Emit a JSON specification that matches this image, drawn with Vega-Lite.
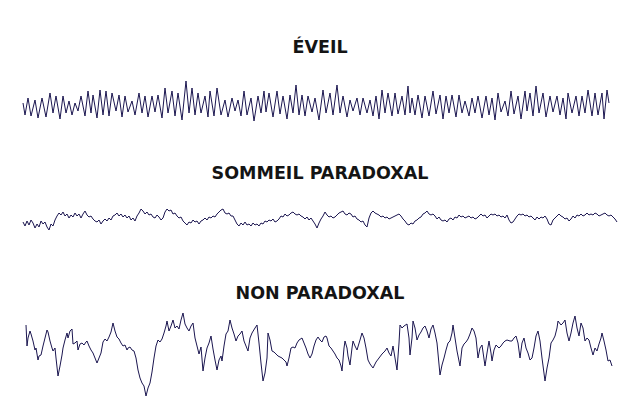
{
  "$schema": "https://vega.github.io/schema/vega-lite/v6.json",
  "padding": {"left": 20, "top": 38, "right": 0, "bottom": 0},
  "background": "#ffffff",
  "config": {
    "view": {"stroke": null},
    "title": {"font": "DejaVu Sans", "fontWeight": "bold", "fontSize": 17.5, "color": "#141414", "anchor": "middle", "baseline": "alphabetic"},
    "concat": {"spacing": 36}
  },
  "datasets": {
    "eveil": [
      {"t":23,"uV":100},{"t":25,"uV":112},{"t":28,"uV":95},{"t":31,"uV":113},{"t":35,"uV":97},{"t":38,"uV":115},{"t":42,"uV":95},{"t":46,"uV":114},{"t":50,"uV":90},{"t":53,"uV":110},{"t":56,"uV":93},{"t":60,"uV":116},{"t":63,"uV":93},{"t":66,"uV":110},{"t":69,"uV":98},{"t":72,"uV":112},{"t":75,"uV":100},{"t":78,"uV":108},{"t":81,"uV":93},{"t":85,"uV":113},{"t":88,"uV":88},{"t":91,"uV":110},{"t":93,"uV":92},{"t":97,"uV":115},{"t":100,"uV":87},{"t":103,"uV":112},{"t":106,"uV":88},{"t":109,"uV":113},{"t":112,"uV":90},{"t":116,"uV":108},{"t":119,"uV":92},{"t":122,"uV":114},{"t":125,"uV":93},{"t":128,"uV":109},{"t":132,"uV":98},{"t":135,"uV":112},{"t":139,"uV":90},{"t":142,"uV":110},{"t":145,"uV":93},{"t":148,"uV":114},{"t":152,"uV":93},{"t":155,"uV":109},{"t":158,"uV":92},{"t":162,"uV":115},{"t":165,"uV":85},{"t":168,"uV":110},{"t":172,"uV":88},{"t":175,"uV":113},{"t":178,"uV":90},{"t":182,"uV":117},{"t":186,"uV":78},{"t":189,"uV":110},{"t":192,"uV":85},{"t":195,"uV":112},{"t":198,"uV":90},{"t":201,"uV":110},{"t":205,"uV":93},{"t":208,"uV":114},{"t":210,"uV":88},{"t":214,"uV":113},{"t":217,"uV":85},{"t":221,"uV":112},{"t":225,"uV":97},{"t":228,"uV":114},{"t":232,"uV":95},{"t":235,"uV":108},{"t":238,"uV":97},{"t":241,"uV":113},{"t":244,"uV":88},{"t":247,"uV":112},{"t":251,"uV":95},{"t":254,"uV":118},{"t":258,"uV":93},{"t":261,"uV":110},{"t":264,"uV":88},{"t":266,"uV":109},{"t":269,"uV":90},{"t":273,"uV":114},{"t":277,"uV":88},{"t":280,"uV":111},{"t":283,"uV":93},{"t":287,"uV":116},{"t":290,"uV":92},{"t":293,"uV":110},{"t":296,"uV":82},{"t":299,"uV":112},{"t":302,"uV":92},{"t":305,"uV":113},{"t":308,"uV":93},{"t":312,"uV":109},{"t":315,"uV":95},{"t":319,"uV":117},{"t":323,"uV":87},{"t":326,"uV":110},{"t":330,"uV":90},{"t":333,"uV":112},{"t":337,"uV":82},{"t":340,"uV":110},{"t":343,"uV":93},{"t":347,"uV":114},{"t":350,"uV":97},{"t":353,"uV":108},{"t":357,"uV":95},{"t":360,"uV":112},{"t":363,"uV":95},{"t":367,"uV":110},{"t":370,"uV":97},{"t":373,"uV":113},{"t":376,"uV":93},{"t":379,"uV":116},{"t":382,"uV":87},{"t":385,"uV":110},{"t":388,"uV":90},{"t":392,"uV":113},{"t":395,"uV":90},{"t":398,"uV":111},{"t":402,"uV":93},{"t":405,"uV":112},{"t":408,"uV":83},{"t":410,"uV":110},{"t":412,"uV":95},{"t":415,"uV":112},{"t":418,"uV":92},{"t":422,"uV":115},{"t":425,"uV":93},{"t":429,"uV":113},{"t":433,"uV":88},{"t":436,"uV":111},{"t":440,"uV":92},{"t":443,"uV":116},{"t":446,"uV":93},{"t":449,"uV":110},{"t":452,"uV":92},{"t":456,"uV":114},{"t":459,"uV":92},{"t":462,"uV":110},{"t":465,"uV":98},{"t":469,"uV":113},{"t":472,"uV":95},{"t":475,"uV":110},{"t":478,"uV":93},{"t":482,"uV":115},{"t":486,"uV":93},{"t":489,"uV":112},{"t":492,"uV":95},{"t":495,"uV":117},{"t":498,"uV":90},{"t":501,"uV":109},{"t":505,"uV":98},{"t":508,"uV":113},{"t":511,"uV":88},{"t":514,"uV":111},{"t":518,"uV":93},{"t":521,"uV":116},{"t":525,"uV":88},{"t":527,"uV":108},{"t":530,"uV":90},{"t":533,"uV":113},{"t":536,"uV":83},{"t":539,"uV":110},{"t":543,"uV":90},{"t":546,"uV":114},{"t":550,"uV":93},{"t":553,"uV":109},{"t":557,"uV":93},{"t":560,"uV":112},{"t":563,"uV":95},{"t":566,"uV":116},{"t":568,"uV":90},{"t":572,"uV":110},{"t":576,"uV":93},{"t":579,"uV":113},{"t":582,"uV":93},{"t":585,"uV":110},{"t":588,"uV":87},{"t":592,"uV":113},{"t":595,"uV":90},{"t":598,"uV":112},{"t":602,"uV":90},{"t":604,"uV":116},{"t":607,"uV":87},{"t":609,"uV":100}
    ],
    "paradoxal": [
      {"t":23,"uV":220},{"t":25,"uV":224},{"t":27,"uV":219},{"t":29,"uV":223},{"t":31,"uV":218},{"t":33,"uV":221},{"t":35,"uV":226},{"t":37,"uV":222},{"t":39,"uV":225},{"t":41,"uV":219},{"t":43,"uV":222},{"t":45,"uV":220},{"t":47,"uV":225},{"t":49,"uV":228},{"t":51,"uV":222},{"t":53,"uV":224},{"t":55,"uV":218},{"t":57,"uV":214},{"t":59,"uV":211},{"t":61,"uV":213},{"t":63,"uV":210},{"t":65,"uV":214},{"t":67,"uV":212},{"t":69,"uV":216},{"t":71,"uV":213},{"t":73,"uV":215},{"t":75,"uV":211},{"t":77,"uV":214},{"t":79,"uV":212},{"t":81,"uV":216},{"t":83,"uV":212},{"t":85,"uV":209},{"t":87,"uV":213},{"t":89,"uV":215},{"t":91,"uV":214},{"t":93,"uV":217},{"t":95,"uV":219},{"t":97,"uV":220},{"t":99,"uV":218},{"t":101,"uV":222},{"t":103,"uV":219},{"t":105,"uV":217},{"t":107,"uV":219},{"t":109,"uV":216},{"t":111,"uV":218},{"t":113,"uV":214},{"t":115,"uV":213},{"t":117,"uV":211},{"t":119,"uV":214},{"t":121,"uV":212},{"t":123,"uV":215},{"t":125,"uV":213},{"t":127,"uV":216},{"t":129,"uV":214},{"t":131,"uV":218},{"t":133,"uV":216},{"t":135,"uV":219},{"t":137,"uV":214},{"t":139,"uV":211},{"t":141,"uV":207},{"t":143,"uV":209},{"t":145,"uV":212},{"t":147,"uV":210},{"t":149,"uV":213},{"t":151,"uV":212},{"t":153,"uV":215},{"t":155,"uV":216},{"t":157,"uV":213},{"t":159,"uV":215},{"t":161,"uV":218},{"t":163,"uV":216},{"t":165,"uV":210},{"t":167,"uV":207},{"t":169,"uV":209},{"t":171,"uV":208},{"t":173,"uV":212},{"t":175,"uV":211},{"t":177,"uV":214},{"t":179,"uV":216},{"t":181,"uV":215},{"t":183,"uV":219},{"t":185,"uV":221},{"t":187,"uV":223},{"t":189,"uV":220},{"t":191,"uV":221},{"t":193,"uV":218},{"t":195,"uV":220},{"t":197,"uV":219},{"t":199,"uV":222},{"t":201,"uV":219},{"t":203,"uV":218},{"t":205,"uV":216},{"t":207,"uV":218},{"t":209,"uV":215},{"t":211,"uV":216},{"t":213,"uV":214},{"t":215,"uV":215},{"t":217,"uV":212},{"t":219,"uV":210},{"t":221,"uV":208},{"t":223,"uV":207},{"t":225,"uV":211},{"t":227,"uV":212},{"t":229,"uV":211},{"t":231,"uV":214},{"t":233,"uV":214},{"t":235,"uV":218},{"t":237,"uV":222},{"t":239,"uV":224},{"t":241,"uV":221},{"t":243,"uV":223},{"t":245,"uV":220},{"t":247,"uV":223},{"t":249,"uV":222},{"t":251,"uV":224},{"t":253,"uV":221},{"t":255,"uV":223},{"t":257,"uV":222},{"t":259,"uV":224},{"t":261,"uV":221},{"t":263,"uV":222},{"t":265,"uV":219},{"t":267,"uV":220},{"t":269,"uV":218},{"t":271,"uV":219},{"t":273,"uV":217},{"t":275,"uV":220},{"t":277,"uV":219},{"t":279,"uV":217},{"t":281,"uV":214},{"t":283,"uV":215},{"t":285,"uV":212},{"t":287,"uV":214},{"t":289,"uV":213},{"t":291,"uV":211},{"t":293,"uV":210},{"t":295,"uV":212},{"t":297,"uV":213},{"t":299,"uV":212},{"t":301,"uV":214},{"t":303,"uV":215},{"t":305,"uV":217},{"t":307,"uV":215},{"t":309,"uV":218},{"t":311,"uV":216},{"t":313,"uV":219},{"t":315,"uV":222},{"t":317,"uV":226},{"t":319,"uV":221},{"t":321,"uV":217},{"t":323,"uV":214},{"t":325,"uV":210},{"t":327,"uV":213},{"t":329,"uV":215},{"t":331,"uV":214},{"t":333,"uV":216},{"t":335,"uV":215},{"t":337,"uV":213},{"t":339,"uV":211},{"t":341,"uV":210},{"t":343,"uV":209},{"t":345,"uV":212},{"t":347,"uV":213},{"t":349,"uV":211},{"t":351,"uV":212},{"t":353,"uV":215},{"t":355,"uV":214},{"t":357,"uV":217},{"t":359,"uV":218},{"t":361,"uV":220},{"t":363,"uV":219},{"t":365,"uV":223},{"t":367,"uV":225},{"t":369,"uV":216},{"t":371,"uV":211},{"t":373,"uV":209},{"t":375,"uV":211},{"t":377,"uV":212},{"t":379,"uV":213},{"t":381,"uV":215},{"t":383,"uV":214},{"t":385,"uV":216},{"t":387,"uV":215},{"t":389,"uV":217},{"t":391,"uV":216},{"t":393,"uV":215},{"t":395,"uV":214},{"t":397,"uV":213},{"t":399,"uV":212},{"t":401,"uV":214},{"t":403,"uV":217},{"t":405,"uV":219},{"t":407,"uV":222},{"t":409,"uV":223},{"t":411,"uV":221},{"t":413,"uV":222},{"t":415,"uV":219},{"t":417,"uV":218},{"t":419,"uV":216},{"t":421,"uV":215},{"t":423,"uV":212},{"t":425,"uV":211},{"t":427,"uV":209},{"t":429,"uV":212},{"t":431,"uV":213},{"t":433,"uV":212},{"t":435,"uV":214},{"t":437,"uV":217},{"t":439,"uV":215},{"t":441,"uV":218},{"t":443,"uV":219},{"t":445,"uV":218},{"t":447,"uV":220},{"t":449,"uV":217},{"t":451,"uV":216},{"t":453,"uV":218},{"t":455,"uV":215},{"t":457,"uV":216},{"t":459,"uV":213},{"t":461,"uV":215},{"t":463,"uV":214},{"t":465,"uV":216},{"t":467,"uV":215},{"t":469,"uV":214},{"t":471,"uV":216},{"t":473,"uV":215},{"t":475,"uV":217},{"t":477,"uV":216},{"t":479,"uV":214},{"t":481,"uV":212},{"t":483,"uV":214},{"t":485,"uV":213},{"t":487,"uV":216},{"t":489,"uV":214},{"t":491,"uV":212},{"t":493,"uV":213},{"t":495,"uV":212},{"t":497,"uV":214},{"t":499,"uV":213},{"t":501,"uV":215},{"t":503,"uV":214},{"t":505,"uV":216},{"t":507,"uV":213},{"t":509,"uV":218},{"t":511,"uV":221},{"t":513,"uV":220},{"t":515,"uV":217},{"t":517,"uV":214},{"t":519,"uV":212},{"t":521,"uV":213},{"t":523,"uV":212},{"t":525,"uV":214},{"t":527,"uV":213},{"t":529,"uV":215},{"t":531,"uV":214},{"t":533,"uV":216},{"t":535,"uV":218},{"t":537,"uV":215},{"t":539,"uV":217},{"t":541,"uV":215},{"t":543,"uV":216},{"t":545,"uV":214},{"t":547,"uV":217},{"t":549,"uV":222},{"t":551,"uV":223},{"t":553,"uV":218},{"t":555,"uV":216},{"t":557,"uV":214},{"t":559,"uV":212},{"t":561,"uV":214},{"t":563,"uV":215},{"t":565,"uV":217},{"t":567,"uV":216},{"t":569,"uV":219},{"t":571,"uV":217},{"t":573,"uV":214},{"t":575,"uV":216},{"t":577,"uV":213},{"t":579,"uV":214},{"t":581,"uV":212},{"t":583,"uV":214},{"t":585,"uV":213},{"t":587,"uV":211},{"t":589,"uV":213},{"t":591,"uV":212},{"t":593,"uV":213},{"t":595,"uV":211},{"t":597,"uV":212},{"t":599,"uV":214},{"t":601,"uV":213},{"t":603,"uV":212},{"t":605,"uV":211},{"t":607,"uV":213},{"t":609,"uV":214},{"t":611,"uV":213},{"t":613,"uV":215},{"t":615,"uV":217},{"t":617,"uV":220}
    ],
    "nonparadoxal": [
      {"t":26,"uV":327},{"t":27,"uV":348},{"t":28,"uV":340},{"t":30,"uV":333},{"t":31,"uV":336},{"t":33,"uV":343},{"t":35,"uV":352},{"t":36,"uV":350},{"t":38,"uV":362},{"t":39,"uV":358},{"t":41,"uV":357},{"t":43,"uV":348},{"t":45,"uV":340},{"t":47,"uV":332},{"t":48,"uV":334},{"t":50,"uV":343},{"t":52,"uV":350},{"t":53,"uV":353},{"t":55,"uV":350},{"t":56,"uV":360},{"t":58,"uV":378},{"t":60,"uV":368},{"t":62,"uV":357},{"t":63,"uV":350},{"t":65,"uV":342},{"t":67,"uV":335},{"t":68,"uV":340},{"t":70,"uV":333},{"t":72,"uV":331},{"t":73,"uV":346},{"t":75,"uV":345},{"t":77,"uV":343},{"t":78,"uV":352},{"t":80,"uV":346},{"t":82,"uV":345},{"t":84,"uV":347},{"t":86,"uV":344},{"t":87,"uV":343},{"t":89,"uV":348},{"t":91,"uV":352},{"t":93,"uV":355},{"t":95,"uV":360},{"t":97,"uV":365},{"t":99,"uV":360},{"t":101,"uV":355},{"t":103,"uV":344},{"t":105,"uV":341},{"t":107,"uV":343},{"t":109,"uV":339},{"t":111,"uV":334},{"t":113,"uV":325},{"t":115,"uV":333},{"t":117,"uV":339},{"t":119,"uV":341},{"t":121,"uV":345},{"t":123,"uV":348},{"t":125,"uV":347},{"t":127,"uV":352},{"t":128,"uV":350},{"t":130,"uV":349},{"t":132,"uV":352},{"t":134,"uV":353},{"t":136,"uV":360},{"t":138,"uV":372},{"t":140,"uV":380},{"t":142,"uV":385},{"t":144,"uV":388},{"t":146,"uV":398},{"t":148,"uV":390},{"t":150,"uV":385},{"t":152,"uV":374},{"t":154,"uV":360},{"t":156,"uV":348},{"t":158,"uV":342},{"t":160,"uV":344},{"t":162,"uV":341},{"t":164,"uV":335},{"t":166,"uV":328},{"t":167,"uV":323},{"t":169,"uV":333},{"t":171,"uV":328},{"t":173,"uV":322},{"t":175,"uV":330},{"t":177,"uV":328},{"t":179,"uV":331},{"t":181,"uV":322},{"t":183,"uV":315},{"t":185,"uV":326},{"t":187,"uV":330},{"t":189,"uV":333},{"t":191,"uV":328},{"t":193,"uV":325},{"t":195,"uV":340},{"t":197,"uV":348},{"t":199,"uV":356},{"t":201,"uV":349},{"t":203,"uV":373},{"t":205,"uV":360},{"t":207,"uV":350},{"t":209,"uV":345},{"t":211,"uV":338},{"t":213,"uV":351},{"t":215,"uV":362},{"t":217,"uV":372},{"t":219,"uV":362},{"t":221,"uV":358},{"t":222,"uV":363},{"t":224,"uV":348},{"t":226,"uV":336},{"t":228,"uV":333},{"t":230,"uV":322},{"t":232,"uV":330},{"t":234,"uV":336},{"t":236,"uV":343},{"t":238,"uV":338},{"t":240,"uV":336},{"t":242,"uV":333},{"t":244,"uV":343},{"t":246,"uV":348},{"t":248,"uV":353},{"t":250,"uV":340},{"t":252,"uV":335},{"t":255,"uV":330},{"t":257,"uV":327},{"t":259,"uV":345},{"t":261,"uV":365},{"t":263,"uV":383},{"t":265,"uV":375},{"t":267,"uV":360},{"t":268,"uV":335},{"t":270,"uV":342},{"t":272,"uV":353},{"t":274,"uV":354},{"t":276,"uV":356},{"t":278,"uV":358},{"t":280,"uV":359},{"t":282,"uV":360},{"t":284,"uV":362},{"t":286,"uV":364},{"t":287,"uV":368},{"t":289,"uV":360},{"t":291,"uV":350},{"t":293,"uV":349},{"t":295,"uV":350},{"t":297,"uV":345},{"t":299,"uV":342},{"t":302,"uV":340},{"t":304,"uV":345},{"t":306,"uV":350},{"t":308,"uV":356},{"t":310,"uV":360},{"t":312,"uV":356},{"t":314,"uV":348},{"t":316,"uV":342},{"t":318,"uV":339},{"t":320,"uV":342},{"t":322,"uV":344},{"t":324,"uV":339},{"t":326,"uV":338},{"t":327,"uV":340},{"t":329,"uV":348},{"t":331,"uV":350},{"t":333,"uV":353},{"t":335,"uV":356},{"t":337,"uV":360},{"t":339,"uV":362},{"t":341,"uV":368},{"t":342,"uV":373},{"t":344,"uV":350},{"t":345,"uV":343},{"t":347,"uV":350},{"t":348,"uV":358},{"t":350,"uV":367},{"t":352,"uV":350},{"t":353,"uV":343},{"t":355,"uV":348},{"t":357,"uV":352},{"t":360,"uV":342},{"t":362,"uV":335},{"t":364,"uV":340},{"t":366,"uV":350},{"t":368,"uV":362},{"t":370,"uV":366},{"t":373,"uV":370},{"t":376,"uV":364},{"t":379,"uV":360},{"t":382,"uV":356},{"t":385,"uV":353},{"t":387,"uV":350},{"t":389,"uV":355},{"t":391,"uV":358},{"t":393,"uV":348},{"t":395,"uV":360},{"t":397,"uV":372},{"t":399,"uV":345},{"t":400,"uV":327},{"t":402,"uV":330},{"t":404,"uV":328},{"t":407,"uV":326},{"t":409,"uV":340},{"t":410,"uV":357},{"t":412,"uV":340},{"t":413,"uV":323},{"t":415,"uV":330},{"t":417,"uV":342},{"t":419,"uV":337},{"t":421,"uV":334},{"t":423,"uV":330},{"t":425,"uV":328},{"t":427,"uV":333},{"t":429,"uV":340},{"t":431,"uV":331},{"t":433,"uV":327},{"t":435,"uV":335},{"t":437,"uV":345},{"t":440,"uV":377},{"t":442,"uV":367},{"t":444,"uV":360},{"t":446,"uV":352},{"t":448,"uV":345},{"t":450,"uV":343},{"t":452,"uV":335},{"t":453,"uV":327},{"t":455,"uV":340},{"t":457,"uV":353},{"t":460,"uV":368},{"t":462,"uV":350},{"t":464,"uV":346},{"t":466,"uV":344},{"t":468,"uV":341},{"t":470,"uV":336},{"t":472,"uV":330},{"t":474,"uV":333},{"t":476,"uV":340},{"t":478,"uV":360},{"t":480,"uV":350},{"t":482,"uV":347},{"t":485,"uV":368},{"t":487,"uV":355},{"t":489,"uV":343},{"t":491,"uV":355},{"t":492,"uV":363},{"t":494,"uV":352},{"t":496,"uV":347},{"t":499,"uV":350},{"t":501,"uV":348},{"t":503,"uV":345},{"t":505,"uV":343},{"t":507,"uV":342},{"t":510,"uV":343},{"t":512,"uV":343},{"t":514,"uV":340},{"t":516,"uV":338},{"t":518,"uV":345},{"t":520,"uV":360},{"t":522,"uV":345},{"t":524,"uV":340},{"t":526,"uV":350},{"t":528,"uV":355},{"t":530,"uV":362},{"t":532,"uV":360},{"t":534,"uV":350},{"t":536,"uV":338},{"t":538,"uV":333},{"t":540,"uV":343},{"t":542,"uV":360},{"t":545,"uV":383},{"t":547,"uV":370},{"t":549,"uV":360},{"t":551,"uV":345},{"t":553,"uV":342},{"t":555,"uV":338},{"t":557,"uV":330},{"t":558,"uV":323},{"t":561,"uV":327},{"t":563,"uV":325},{"t":565,"uV":322},{"t":567,"uV":335},{"t":569,"uV":343},{"t":571,"uV":335},{"t":573,"uV":325},{"t":575,"uV":318},{"t":577,"uV":330},{"t":579,"uV":338},{"t":581,"uV":325},{"t":583,"uV":330},{"t":585,"uV":343},{"t":587,"uV":340},{"t":589,"uV":342},{"t":591,"uV":350},{"t":593,"uV":357},{"t":595,"uV":350},{"t":597,"uV":353},{"t":599,"uV":346},{"t":601,"uV":340},{"t":602,"uV":335},{"t":604,"uV":343},{"t":606,"uV":352},{"t":608,"uV":363},{"t":610,"uV":362},{"t":612,"uV":368}
    ]
  },
  "vconcat": [
    {
      "title": {"text": "ÉVEIL", "offset": 22},
      "width": 600, "height": 50,
      "data": {"name": "eveil"},
      "mark": {"type": "line", "color": "#1b1650", "strokeWidth": 1, "interpolate": "linear"},
      "encoding": {
        "x": {"field": "t", "type": "quantitative", "scale": {"domain": [20, 620], "nice": false, "zero": false}, "axis": null},
        "y": {"field": "uV", "type": "quantitative", "scale": {"domain": [75, 125], "reverse": true, "nice": false, "zero": false}, "axis": null}
      }
    },
    {
      "title": {"text": "SOMMEIL PARADOXAL", "offset": 23},
      "width": 600, "height": 43,
      "data": {"name": "paradoxal"},
      "mark": {"type": "line", "color": "#1b1650", "strokeWidth": 1, "interpolate": "linear"},
      "encoding": {
        "x": {"field": "t", "type": "quantitative", "scale": {"domain": [20, 620], "nice": false, "zero": false}, "axis": null},
        "y": {"field": "uV", "type": "quantitative", "scale": {"domain": [203, 246], "reverse": true, "nice": false, "zero": false}, "axis": null}
      }
    },
    {
      "title": {"text": "NON PARADOXAL", "offset": 6},
      "width": 600, "height": 92,
      "data": {"name": "nonparadoxal"},
      "mark": {"type": "line", "color": "#1b1650", "strokeWidth": 1, "interpolate": "linear"},
      "encoding": {
        "x": {"field": "t", "type": "quantitative", "scale": {"domain": [20, 620], "nice": false, "zero": false}, "axis": null},
        "y": {"field": "uV", "type": "quantitative", "scale": {"domain": [310, 402], "reverse": true, "nice": false, "zero": false}, "axis": null}
      }
    }
  ]
}
